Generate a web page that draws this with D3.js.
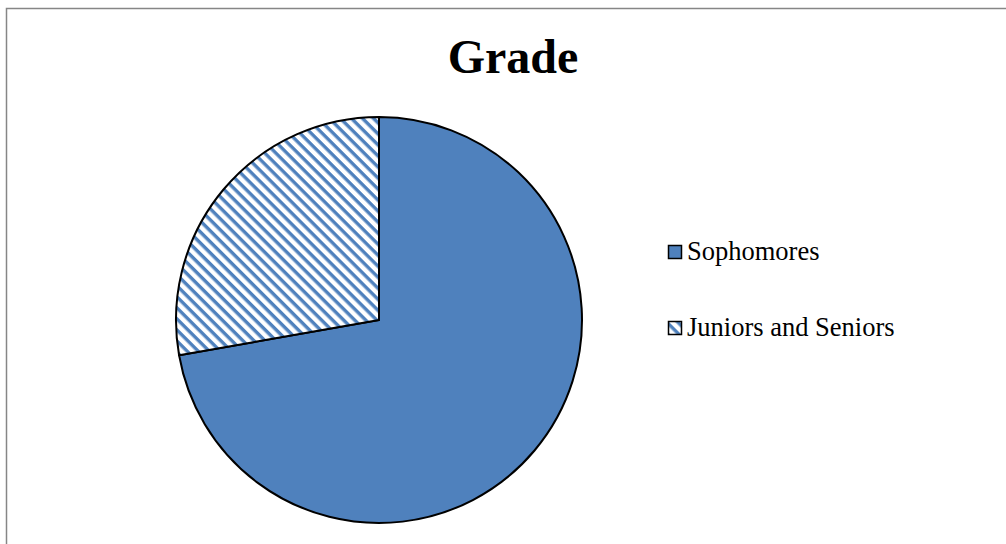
<!DOCTYPE html>
<html>
<head>
<meta charset="utf-8">
<script src="https://cdn.jsdelivr.net/npm/d3@7"></script>
<style>
  body { margin: 0; background: #fff; }
  svg { display: block; }
</style>
</head>
<body>
<svg id="chart" width="1006" height="544"></svg>
<script>
// data
const categories = ["Sophomores", "Juniors and Seniors"];
const counts = [13, 5];
const chartTitle = "Grade";

const W = 1006, H = 544;
const svg = d3.select("#chart");

// diagonal stripes (top-left to bottom-right) for the second slice
const defs = svg.append("defs");
const pat = defs.append("pattern")
    .attr("id", "hatch")
    .attr("patternUnits", "userSpaceOnUse")
    .attr("width", 7.8).attr("height", 7.8)
    .attr("patternTransform", "rotate(45)");
pat.append("rect").attr("width", 7.8).attr("height", 7.8).attr("fill", "#fff");
pat.append("rect").attr("width", 7.8).attr("height", 3.4).attr("fill", "#4f81bd");

const fills = d3.scaleOrdinal()
    .domain(categories)
    .range(["#4f81bd", "url(#hatch)"]);

// outer frame
svg.append("rect")
    .attr("x", 6.5).attr("y", 8.5)
    .attr("width", W).attr("height", H)
    .attr("fill", "none")
    .attr("stroke", "#868686")
    .attr("stroke-width", 1.5);

svg.append("text")
    .attr("x", 513).attr("y", 73)
    .attr("text-anchor", "middle")
    .attr("font-family", "'Liberation Serif', 'Times New Roman', serif")
    .attr("font-weight", "bold")
    .attr("font-size", 48)
    .text(chartTitle);

const cx = 379, cy = 320, r = 203;
const pie = d3.pie().sort(null).value(d => d.v);
const arc = d3.arc().innerRadius(0).outerRadius(r);
const data = categories.map((c, i) => ({ c: c, v: counts[i] }));

svg.append("g")
    .attr("transform", `translate(${cx},${cy})`)
  .selectAll("path")
  .data(pie(data))
  .join("path")
    .attr("d", arc)
    .attr("fill", d => fills(d.data.c))
    .attr("stroke", "#000")
    .attr("stroke-width", 2)
    .attr("stroke-linejoin", "round");

// legend
const legend = svg.append("g").attr("transform", "translate(668,245)");
const item = legend.selectAll("g")
  .data(categories)
  .join("g")
    .attr("transform", (d, i) => `translate(0,${i * 76})`);
item.append("rect")
    .attr("x", 0.5).attr("y", 0.5)
    .attr("width", 13).attr("height", 13)
    .attr("fill", d => fills(d))
    .attr("stroke", "#000")
    .attr("stroke-width", 1.5);
item.append("text")
    .attr("x", 19).attr("y", 15)
    .attr("font-family", "'Liberation Serif', 'Times New Roman', serif")
    .attr("font-size", 26.5)
    .attr("fill", "#000")
    .text(d => d);
</script>
</body>
</html>
